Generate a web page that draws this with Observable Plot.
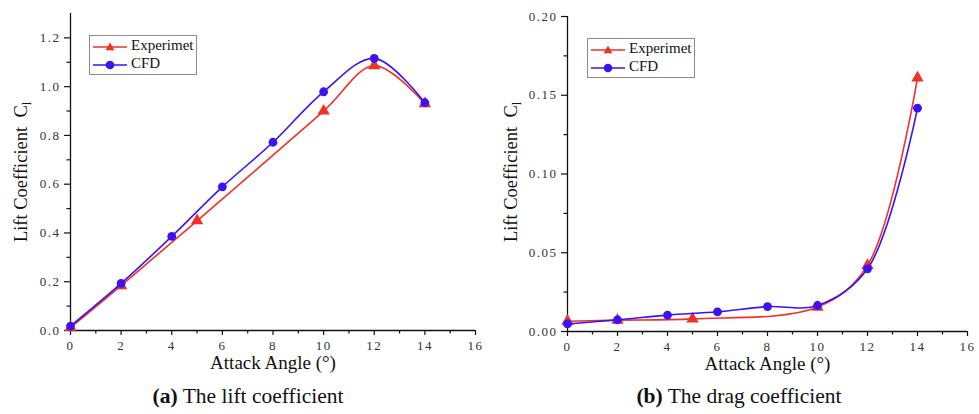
<!DOCTYPE html>
<html><head><meta charset="utf-8">
<script src="https://cdn.jsdelivr.net/npm/d3@7"></script>
<script src="https://cdn.jsdelivr.net/npm/@observablehq/plot@0.6"></script>
<style>
body{margin:0;background:#fff;font-family:"Liberation Serif",serif;}
#wrap{position:relative;width:979px;height:414px;overflow:hidden;}
.panel{position:absolute;top:0;width:490px;height:414px;}
.panel svg{position:absolute;left:0;top:0;}
.panel svg, .panel svg text{font-family:"Liberation Serif",serif !important;}
g[aria-label="y-axis tick label"] text, g[aria-label="x-axis tick label"] text{letter-spacing:1.5px;fill:#333;}
.ytitle{position:absolute;white-space:nowrap;font-size:18.5px;color:#111;transform:translate(-50%,-50%) rotate(-90deg);}
.ytitle sub{font-size:12px;}
.legend{position:absolute;border:1px solid #8c8c8c;background:#fff;font-size:15px;color:#111;}
.legend .row{position:absolute;left:0;height:18px;width:100%;}
.legend svg{position:absolute;left:2px;top:4px;}
.legend span{position:absolute;left:41px;top:-1px;}
.caption{position:absolute;top:384px;width:490px;text-align:center;font-size:21.5px;color:#111;}
</style></head>
<body>
<div id="wrap"></div>
<script>
// ---- data ----
const angleExp = [0, 2, 5, 10, 12, 14];
const angleCfd = [0, 2, 4, 6, 8, 10, 12, 14];
const liftExp = [0.012, 0.184, 0.45, 0.90, 1.086, 0.93];
const liftCfd = [0.018, 0.193, 0.386, 0.589, 0.772, 0.979, 1.116, 0.934];
const dragExp = [0.0065, 0.0072, 0.008, 0.0155, 0.042, 0.161];
const dragCfd = [0.0048, 0.0074, 0.0104, 0.0125, 0.0158, 0.0165, 0.0398, 0.1418];
const seriesNames = ["Experimet", "CFD"];
const xMajor = [0, 2, 4, 6, 8, 10, 12, 14, 16];
const xMinor = [1, 3, 5, 7, 9, 11, 13, 15];
const liftMajor = [0, 0.2, 0.4, 0.6, 0.8, 1.0, 1.2];
const liftMinor = [0.1, 0.3, 0.5, 0.7, 0.9, 1.1];
const dragMajor = [0, 0.05, 0.10, 0.15, 0.20];
const dragMinor = [0.025, 0.075, 0.125, 0.175];
const xTitle = "Attack Angle (°)";
const yTitle = "Lift Coefficient&nbsp; C<sub>l</sub>";
const captions = [["(a)", "The lift coefficient"], ["(b)", "The drag coefficient"]];

const RED = "#ee3226";
const BLUE = "#3c12f2";
const FONT = "Liberation Serif, serif";

function rows(xs, ys) { return xs.map((a, i) => ({a, v: ys[i]})); }

function chart(cfg) {
  const exp = rows(angleExp, cfg.exp);
  const cfd = rows(angleCfd, cfg.cfd);
  return Plot.plot({
    width: 490, height: 375,
    marginLeft: cfg.ml, marginRight: cfg.mr, marginTop: cfg.mt, marginBottom: 375 - cfg.axisY,
    x: {domain: [0, 16]},
    y: {domain: cfg.yDomain},
    style: {fontFamily: FONT, background: "transparent", overflow: "visible", color: "#111"},
    marks: [
      Plot.axisX({ticks: xMinor, tickSize: 3.5, tickFormat: () => "", label: null, strokeWidth: 1.2}),
      Plot.axisX({ticks: xMajor, tickSize: 5, tickPadding: 5, fontSize: 13, fontFamily: FONT, label: null, strokeWidth: 1.2}),
      Plot.axisX({ticks: [], tickSize: 0, label: xTitle, labelAnchor: "center", labelArrow: "none", labelOffset: 38, fontSize: 19, fontFamily: FONT}),
      Plot.axisY({ticks: cfg.yMinor, tickSize: 3.5, tickFormat: () => "", label: null, strokeWidth: 1.2}),
      Plot.axisY({ticks: cfg.yMajor, tickSize: 6, tickPadding: 4, fontSize: 13, fontFamily: FONT, tickFormat: d3.format(cfg.fmt), label: null, strokeWidth: 1.2}),
      Plot.ruleX([0], {stroke: "#111", strokeWidth: 1.3}),
      Plot.ruleY([0], {stroke: "#111", strokeWidth: 1.3}),
      Plot.line(exp, {x: "a", y: "v", stroke: RED, strokeWidth: 1.6, curve: "catmull-rom"}),
      Plot.dot(exp, {x: "a", y: "v", symbol: "triangle", r: 4.6, fill: RED, stroke: "none"}),
      Plot.line(cfd, {x: "a", y: "v", stroke: BLUE, strokeWidth: 1.6, curve: "catmull-rom"}),
      Plot.dot(cfd, {x: "a", y: "v", symbol: "circle", r: 4.4, fill: BLUE, stroke: "none"})
    ]
  });
}

function legendHTML(x, y) {
  const mk = (color, sym) => `<svg width="36" height="10" viewBox="0 0 36 10">
    <line x1="1" y1="5" x2="35" y2="5" stroke="${color}" stroke-width="1.6"/>
    ${sym === "tri" ? `<path d="M18,0.5 L22.5,8.3 L13.5,8.3 Z" fill="${color}"/>` : `<circle cx="18" cy="5" r="4.3" fill="${color}"/>`}
  </svg>`;
  return `<div class="legend" style="left:${x}px;top:${y}px;width:106px;height:38px">
    <div class="row" style="top:2px">${mk(RED, "tri")}<span>${seriesNames[0]}</span></div>
    <div class="row" style="top:20px">${mk(BLUE, "dot")}<span>${seriesNames[1]}</span></div>
  </div>`;
}

const configs = [
  {exp: liftExp, cfd: liftCfd, yDomain: [0, 1.3], yMajor: liftMajor, yMinor: liftMinor, fmt: ".1f",
   ml: 70, mr: 15, mt: 13, axisY: 330, legend: [89, 35], capShift: 3},
  {exp: dragExp, cfd: dragCfd, yDomain: [0, 0.2], yMajor: dragMajor, yMinor: dragMinor, fmt: ".2f",
   ml: 77, mr: 13, mt: 16, axisY: 331, legend: [97, 38], capShift: 4}
];

const wrap = document.getElementById("wrap");
configs.forEach((cfg, i) => {
  const panel = document.createElement("div");
  panel.className = "panel";
  panel.style.left = (i * 490) + "px";
  panel.appendChild(chart(cfg));
  panel.insertAdjacentHTML("beforeend",
    `<div class="ytitle" style="left:23px;top:172px">${yTitle}</div>` +
    legendHTML(cfg.legend[0], cfg.legend[1]) +
    `<div class="caption" style="left:${cfg.capShift}px"><b>${captions[i][0]}</b> ${captions[i][1]}</div>`);
  wrap.appendChild(panel);
});
</script>
</body></html>
